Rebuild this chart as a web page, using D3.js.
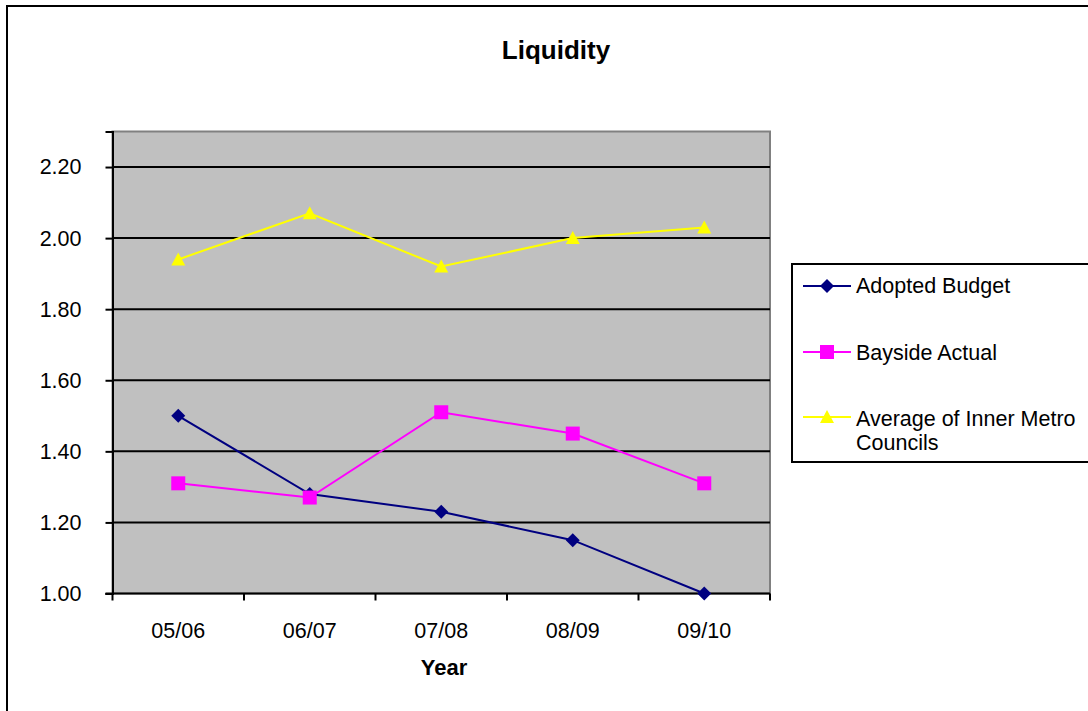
<!DOCTYPE html>
<html>
<head>
<meta charset="utf-8">
<script src="https://cdn.jsdelivr.net/npm/d3@7"></script>
<style>
  html, body { margin: 0; padding: 0; background: #fff; }
  svg { display: block; font-family: "Liberation Sans", Arial, sans-serif; }
</style>
</head>
<body>
<svg id="chart" width="1088" height="711"></svg>
<script>
// Liquidity ratios by financial year
const years = ["05/06", "06/07", "07/08", "08/09", "09/10"];
const adoptedBudget = [1.50, 1.28, 1.23, 1.15, 1.00];
const baysideActual = [1.31, 1.27, 1.51, 1.45, 1.31];
const innerMetroAverage = [1.94, 2.07, 1.92, 2.00, 2.03];
const yTicks = [1.00, 1.20, 1.40, 1.60, 1.80, 2.00, 2.20];
const seriesNames = ["Adopted Budget", "Bayside Actual", "Average of Inner Metro Councils"];

const series = [
  { name: seriesNames[0], values: adoptedBudget, color: "#000080", marker: "diamond" },
  { name: seriesNames[1], values: baysideActual, color: "#FF00FF", marker: "square" },
  { name: seriesNames[2], values: innerMetroAverage, color: "#FFFF00", marker: "triangle" }
];

const FS = 21.5;
const svg = d3.select("#chart");

// outer chart frame
svg.append("rect")
  .attr("x", 7).attr("y", 6)
  .attr("width", 1100).attr("height", 720)
  .attr("fill", "#fff").attr("stroke", "#000").attr("stroke-width", 2);

const plot = { left: 112.5, top: 131.5, right: 770, bottom: 593.5 };

const x = d3.scaleBand().domain(years).range([plot.left, plot.right]);
const y = d3.scaleLinear().domain([1.0, 2.3]).range([plot.bottom, plot.top]);

// plot area background
svg.append("rect")
  .attr("x", plot.left).attr("y", plot.top)
  .attr("width", plot.right - plot.left).attr("height", plot.bottom - plot.top)
  .attr("fill", "#C0C0C0").attr("stroke", "#808080").attr("stroke-width", 2);

// horizontal gridlines
svg.append("g")
  .selectAll("line")
  .data(yTicks.filter(d => d > 1.0))
  .join("line")
  .attr("x1", plot.left).attr("x2", plot.right)
  .attr("y1", d => y(d)).attr("y2", d => y(d))
  .attr("stroke", "#000").attr("stroke-width", 2);

// y axis
const yAxis = svg.append("g")
  .attr("transform", `translate(${plot.left},0)`)
  .call(d3.axisLeft(y).tickValues(yTicks).tickFormat(d3.format(".2f")).tickSize(7).tickPadding(24));
yAxis.select(".domain").attr("stroke", "#000").attr("stroke-width", 2);
yAxis.selectAll(".tick line").attr("stroke", "#000").attr("stroke-width", 2);
yAxis.selectAll(".tick text")
  .attr("font-size", FS).attr("fill", "#000")
  .attr("font-family", "Liberation Sans, Arial, sans-serif");

// x axis with ticks at category boundaries
const boundaries = years.map(d => x(d)).concat([plot.right]);
const xg = svg.append("g");
xg.append("line")
  .attr("x1", plot.left - 7).attr("x2", plot.right)
  .attr("y1", plot.bottom).attr("y2", plot.bottom)
  .attr("stroke", "#000").attr("stroke-width", 2);
xg.selectAll("line.tick")
  .data(boundaries)
  .join("line")
  .attr("class", "tick")
  .attr("x1", d => d).attr("x2", d => d)
  .attr("y1", plot.bottom).attr("y2", plot.bottom + 7)
  .attr("stroke", "#000").attr("stroke-width", 2);
xg.selectAll("text")
  .data(years)
  .join("text")
  .attr("x", d => x(d) + x.bandwidth() / 2)
  .attr("y", 638)
  .attr("text-anchor", "middle")
  .attr("font-size", FS)
  .text(d => d);

// axis title and chart title
svg.append("text")
  .attr("x", 444).attr("y", 675)
  .attr("text-anchor", "middle")
  .attr("font-size", 22).attr("font-weight", "bold")
  .text("Year");

svg.append("text")
  .attr("x", 556).attr("y", 59)
  .attr("text-anchor", "middle")
  .attr("font-size", 26).attr("font-weight", "bold")
  .text("Liquidity");

// marker shapes
function markerPath(type) {
  if (type === "diamond") return "M0,-7L7,0L0,7L-7,0Z";
  if (type === "square") return "M-7,-7H7V7H-7Z";
  return "M0,-7L7,6H-7Z";
}

const line = d3.line()
  .x((d, i) => x(years[i]) + x.bandwidth() / 2)
  .y(d => y(d));

series.forEach(s => {
  const g = svg.append("g");
  g.append("path")
    .attr("d", line(s.values))
    .attr("fill", "none")
    .attr("stroke", s.color)
    .attr("stroke-width", 2);
  g.selectAll("path.m")
    .data(s.values)
    .join("path")
    .attr("class", "m")
    .attr("transform", (d, i) => `translate(${x(years[i]) + x.bandwidth() / 2},${y(d)})`)
    .attr("d", markerPath(s.marker))
    .attr("fill", s.color);
});

// legend
const legend = svg.append("g");
legend.append("rect")
  .attr("x", 792).attr("y", 264)
  .attr("width", 320).attr("height", 198)
  .attr("fill", "#fff").attr("stroke", "#000").attr("stroke-width", 2);

const legendRows = [286, 352, 417];
series.forEach((s, i) => {
  const cy = legendRows[i];
  legend.append("line")
    .attr("x1", 803).attr("x2", 851)
    .attr("y1", cy).attr("y2", cy)
    .attr("stroke", s.color).attr("stroke-width", 2);
  legend.append("path")
    .attr("transform", `translate(827,${cy})`)
    .attr("d", markerPath(s.marker))
    .attr("fill", s.color);
});
legend.append("text").attr("x", 856).attr("y", 293).attr("font-size", FS).text(seriesNames[0]);
legend.append("text").attr("x", 856).attr("y", 360).attr("font-size", FS).text(seriesNames[1]);
const avgText = legend.append("text").attr("x", 856).attr("y", 426).attr("font-size", FS);
avgText.append("tspan").attr("x", 856).text("Average of Inner Metro");
avgText.append("tspan").attr("x", 856).attr("dy", 23.5).text("Councils");
</script>
</body>
</html>
